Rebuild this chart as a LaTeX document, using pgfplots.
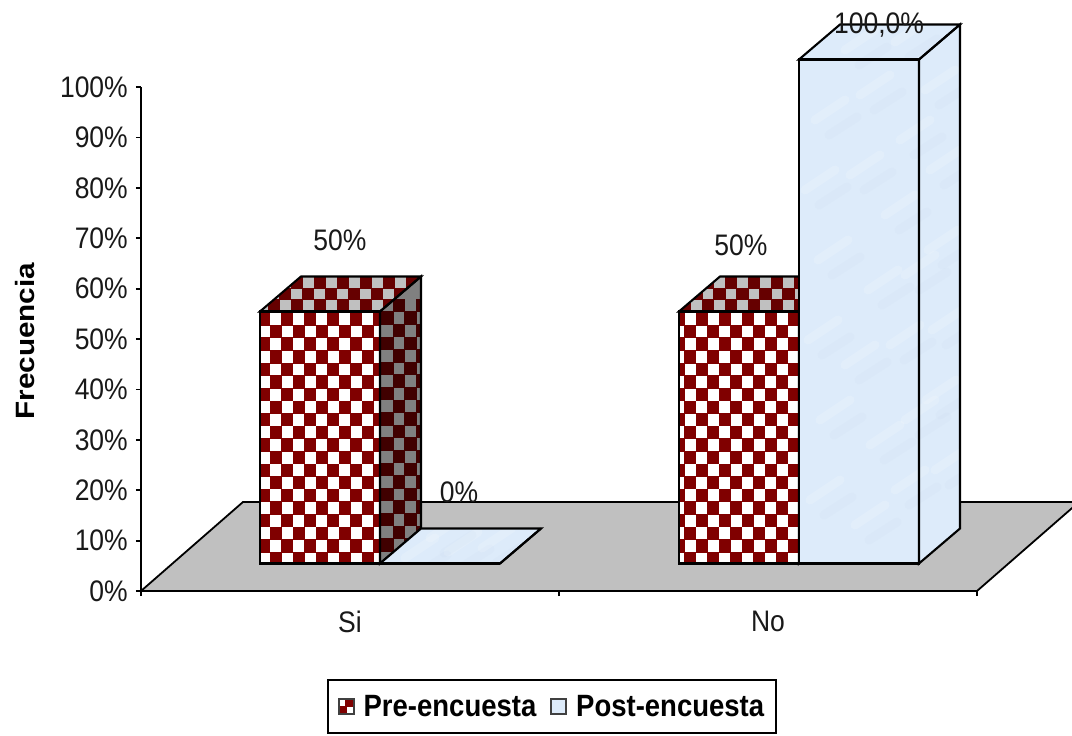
\documentclass[border=0pt]{standalone}
\usepackage{graphicx}
\usepackage{fontspec}
\setmainfont{Liberation Sans}
\usepackage{pgfplots}
\pgfplotsset{compat=1.18}

% Palette
\definecolor{floorgray}{HTML}{C0C0C0}
\definecolor{preFront}{HTML}{800000}
\definecolor{preTop}{HTML}{660000}
\definecolor{preSide}{HTML}{400000}
\definecolor{preSideLight}{HTML}{808080}
\definecolor{postBlue}{HTML}{DDEBFA}
\definecolor{postMottle}{HTML}{B4CBE4}

% All lettering is slightly taller than wide
\newcommand\tall[1]{\scalebox{1}[1.12]{#1}}

% Geometry: x runs in points across the page, y in percent (5.04pt per percent)
\def\barwidth{120}
\def\depthx{41}
\def\depthy{6.94}
\def\basey{5.46}

% Position given in page points measured from the top left
\def\pc#1#2{(axis cs:{#1},{(591-(#2))/5.04})}

% Filled faces of a box whose height is the value #2, starting at x = #1
\newcommand\barfaces[5]{%
  \pgfmathsetmacro\xa{#1}\pgfmathsetmacro\xb{#1+\barwidth}%
  \pgfmathsetmacro\xc{#1+\depthx}\pgfmathsetmacro\xd{#1+\barwidth+\depthx}%
  \pgfmathsetmacro\ya{\basey}\pgfmathsetmacro\yb{\basey+#2}%
  \pgfmathsetmacro\yc{\basey+\depthy}\pgfmathsetmacro\yd{\basey+#2+\depthy}%
  \addplot[fill=#3,draw=none,forget plot] coordinates {(\xa,\ya)(\xb,\ya)(\xb,\yb)(\xa,\yb)} -- cycle;
  \addplot[fill=#4,draw=none,forget plot] coordinates {(\xb,\ya)(\xd,\yc)(\xd,\yd)(\xb,\yb)} -- cycle;
  \addplot[fill=#5,draw=none,forget plot] coordinates {(\xa,\yb)(\xb,\yb)(\xd,\yd)(\xc,\yd)} -- cycle;
}
% Outline of the same box
\newcommand\baredges[2]{%
  \pgfmathsetmacro\xa{#1}\pgfmathsetmacro\xb{#1+\barwidth}%
  \pgfmathsetmacro\xc{#1+\depthx}\pgfmathsetmacro\xd{#1+\barwidth+\depthx}%
  \pgfmathsetmacro\ya{\basey}\pgfmathsetmacro\yb{\basey+#2}%
  \pgfmathsetmacro\yc{\basey+\depthy}\pgfmathsetmacro\yd{\basey+#2+\depthy}%
  \addplot[draw=black,line width=2.1pt,line join=miter,forget plot] coordinates {(\xa,\ya)(\xb,\ya)(\xb,\yb)(\xa,\yb)} -- cycle;
  \addplot[draw=black,line width=2.1pt,line join=miter,forget plot] coordinates {(\xb,\ya)(\xd,\yc)(\xd,\yd)(\xb,\yb)} -- cycle;
  \addplot[draw=black,line width=2.1pt,line join=miter,forget plot] coordinates {(\xa,\yb)(\xb,\yb)(\xd,\yd)(\xc,\yd)} -- cycle;
}
% Screen-aligned checker texture clipped to a face:
% #1 clip path, #2 #3 tile origin, #4 cell height, #5 columns, #6 rows, #7 colour
\newcommand\checker[7]{%
  \pgfplotsextra{%
    \begin{scope}
      \clip #1;
      \foreach \i in {0,...,#5}{\foreach \j in {0,...,#6}{%
        \pgfmathtruncatemacro\odd{mod(\i+\j,2)}%
        \ifnum\odd=1
          \fill[#7] \pc{#2+11.5*\i-0.4}{#3+#4*\j-0.4} rectangle \pc{#2+11.5*\i+11.9}{#3+#4*\j+#4+0.4};
        \fi
      }}%
    \end{scope}%
  }%
}
% Faint water-like mottling over a face: #1 clip path, #2 list of stroke starts
\newcommand\mottle[2]{%
  \pgfplotsextra{%
    \begin{scope}
      \clip #1;
      \foreach \a/\b in {#2}{%
        \draw[white,opacity=.16,line width=9pt,line cap=round] \pc{\a}{\b} -- \pc{\a+30}{\b-20};
        \draw[postMottle,opacity=.07,line width=9pt,line cap=round] \pc{\a+14}{\b+15} -- \pc{\a+42}{\b-3};
      }%
    \end{scope}%
  }%
}

\begin{document}
\begin{tikzpicture}
\begin{axis}[
  width=836pt, height=504pt, scale only axis,
  xmin=141, xmax=977, ymin=0, ymax=100,
  clip=false,
  axis lines=left,
  axis line style={-,line width=1.8pt,black},
  tick style={line width=1.8pt,black},
  tick align=outside,
  major tick length=5pt,
  xtick={141,559,977},
  xticklabels={\tall{Si},\tall{No}},
  x tick label as interval=true,
  ytick={0,10,...,100},
  yticklabels={\tall{0\%},\tall{10\%},\tall{20\%},\tall{30\%},\tall{40\%},\tall{50\%},\tall{60\%},\tall{70\%},\tall{80\%},\tall{90\%},\tall{100\%}},
  tick label style={font=\fontsize{26.5}{30}\selectfont,text=black!90},
  yticklabel style={inner sep=0pt,xshift=-8pt},
  xticklabel style={inner sep=0pt,yshift=-15pt},
  ylabel={\scalebox{1.12}[1]{\textbf{Frecuencia}}},
  every axis y label/.style={at={(axis cs:25,49.6)},rotate=90,anchor=center,
    font=\fontsize{26.5}{30}\selectfont},
  legend style={
    at={(axis cs:552,-22.9)},anchor=center,
    draw=black,line width=1.8pt,
    font=\fontsize{27.5}{30}\selectfont\bfseries,
    legend columns=2,
    inner xsep=10pt,inner ysep=13pt,
    /tikz/every odd column/.append style={column sep=7pt},
    /tikz/every even column/.append style={column sep=12pt},
    legend cell align=left,
    nodes={inner sep=2pt},
  },
]
  % Legend swatches
  \addlegendimage{legend image code/.code={
    \fill[white] (0pt,-7.5pt) rectangle (15pt,7.5pt);
    \fill[preFront] (7.5pt,0pt) rectangle (15pt,7.5pt);
    \fill[preFront] (0pt,-7.5pt) rectangle (7.5pt,0pt);
    \draw[black!75,line width=1.6pt] (0pt,-7.5pt) rectangle (15pt,7.5pt);
  }}
  \addlegendentry{\tall{Pre-encuesta}}
  \addlegendimage{legend image code/.code={
    \fill[postBlue] (0pt,-7.5pt) rectangle (15pt,7.5pt);
    \draw[black!75,line width=1.6pt] (0pt,-7.5pt) rectangle (15pt,7.5pt);
  }}
  \addlegendentry{\tall{Post-encuesta}}

  % Floor of the chart
  \addplot[fill=floorgray,draw=black,line width=1.8pt,forget plot]
    coordinates {(141,0)(977,0)(1079,17.66)(243,17.66)} -- cycle;

  % Si: Pre-encuesta 50, Post-encuesta 0
  \barfaces{260}{50}{white}{preSideLight}{floorgray}
  \checker{\pc{260}{563.5} -- \pc{380}{563.5} -- \pc{380}{311.5} -- \pc{260}{311.5} -- cycle}{258.5}{300.1}{12.6}{11}{21}{preFront}
  \checker{\pc{380}{563.5} -- \pc{421}{528.5} -- \pc{421}{276.5} -- \pc{380}{311.5} -- cycle}{381.7}{299.1}{12.6}{4}{21}{preSide}
  \checker{\pc{260}{311.5} -- \pc{380}{311.5} -- \pc{421}{276.5} -- \pc{301}{276.5} -- cycle}{256.5}{277.3}{11}{15}{3}{preTop}
  \baredges{260}{50}
  \barfaces{380}{0}{postBlue}{postBlue}{postBlue}
  \mottle{\pc{381}{563.5} -- \pc{501}{563.5} -- \pc{541}{528.5} -- \pc{421}{528.5} -- cycle}{405/558,448/552,482/548,430/538}
  \baredges{380}{0}

  % No: Pre-encuesta 50, Post-encuesta 100
  \barfaces{679}{50}{white}{preSideLight}{floorgray}
  \checker{\pc{679}{563.5} -- \pc{799}{563.5} -- \pc{799}{311.5} -- \pc{679}{311.5} -- cycle}{673}{300.1}{12.6}{11}{21}{preFront}
  \checker{\pc{679}{311.5} -- \pc{799}{311.5} -- \pc{840}{276.5} -- \pc{720}{276.5} -- cycle}{667.8}{277.3}{11}{15}{3}{preTop}
  \baredges{679}{50}
  \barfaces{799}{100}{postBlue}{postBlue}{postBlue}
  \mottle{\pc{799}{563.5} -- \pc{919}{563.5} -- \pc{960}{528.5} -- \pc{960}{24.5} -- \pc{840}{24.5} -- \pc{799}{59.5} -- cycle}%
    {815/120,860/95,900/140,925/90,805/190,850/175,885/215,930/170,818/260,868/290,905/275,928/250,808/340,845/365,890/345,932/330,820/420,870/445,905/420,926/400,810/500,855/525,895/490,935/470,845/50,895/42}
  \baredges{799}{100}

  % Value labels
  \pgfplotsextra{%
    \begin{scope}[every node/.style={font=\fontsize{26.5}{30}\selectfont,text=black!90,inner sep=0pt}]
      \path \pc{340}{240} node {\tall{50\%}};
      \path \pc{459}{492} node {\tall{0\%}};
      \path \pc{741}{245} node {\tall{50\%}};
      \path \pc{879}{25} node {\tall{100,0\%}};
    \end{scope}%
    \path \pc{0}{735} coordinate (pageSW);
    \path \pc{1072}{0} coordinate (pageNE);
  }
\end{axis}
\pgfresetboundingbox
\path[use as bounding box] (pageSW) rectangle (pageNE);
\end{tikzpicture}
\end{document}
